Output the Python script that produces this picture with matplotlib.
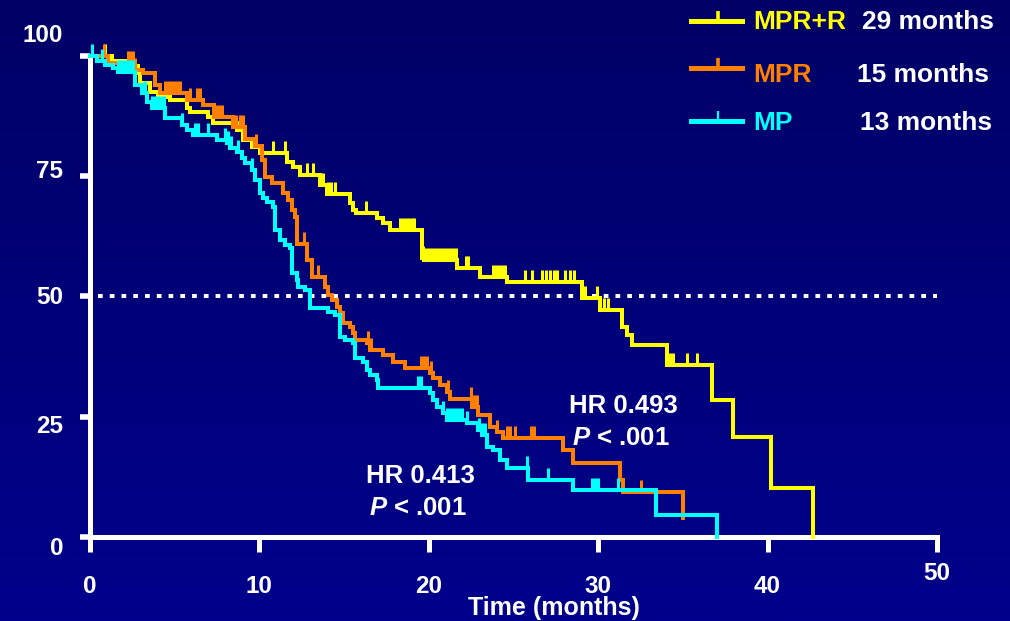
import numpy as np
import matplotlib
matplotlib.use("Agg")
import matplotlib.pyplot as plt
from matplotlib.colors import LinearSegmentedColormap
from matplotlib.lines import Line2D
from matplotlib.markers import TICKUP
from matplotlib.transforms import ScaledTranslation

plt.rcParams['font.family'] = ['Liberation Sans', 'DejaVu Sans']
plt.rcParams['font.weight'] = 'bold'
plt.rcParams['mathtext.fontset'] = 'custom'
plt.rcParams['mathtext.it'] = 'Liberation Sans:italic:bold'
plt.rcParams['mathtext.rm'] = 'Liberation Sans:bold'

# ---- Kaplan-Meier step data (time in months, % progression-free) ----
t_mprr = [0, 1.30, 2.66, 2.83, 2.95, 3.54, 4.01, 4.72, 5.73, 5.90,
          6.97, 7.26, 8.68, 9.03, 9.56, 10.04, 11.63, 11.98, 12.40, 13.58,
          13.99, 15.35, 15.53, 15.70, 16.94, 17.30, 17.71, 19.60, 19.72, 21.66,
          23.02, 24.62, 29.04, 30.11, 31.40, 31.70, 32.00, 34.06, 36.72, 37.96,
          40.20, 42.68]
s_mprr = [100, 99.0, 97.9, 96.5, 94.4, 92.6, 91.5, 90.9, 89.2, 88.4,
          87.3, 86.1, 84.6, 82.5, 81.1, 79.8, 78.0, 77.0, 75.3, 73.2,
          71.3, 69.4, 68.0, 67.4, 66.3, 65.3, 63.8, 58.0, 57.6, 55.9,
          54.1, 53.0, 49.7, 47.2, 43.7, 42.0, 39.9, 35.8, 28.5, 20.8,
          10.2, 0]
c_mprr = [0.89, 10.80, 11.51, 12.81, 13.16, 13.75, 14.05, 14.23, 14.46, 16.29,
          18.30, 18.48, 18.65, 18.83, 19.01, 19.13, 19.66, 19.83, 20.01, 20.19,
          20.37, 20.54, 20.72, 20.90, 21.07, 21.25, 21.43, 21.61, 22.20, 22.31,
          23.79, 23.97, 24.14, 24.32, 24.50, 25.68, 26.09, 26.68, 26.92, 27.15,
          27.39, 27.57, 28.04, 28.34, 28.57, 29.22, 29.93, 30.11, 30.34, 30.58,
          34.24, 34.42, 35.24, 35.83]

t_mpr = [0, 1.06, 2.66, 3.13, 3.84, 4.13, 5.73, 6.67, 7.32, 8.44,
         9.15, 9.74, 10.15, 10.33, 10.74, 11.39, 11.69, 11.92, 12.10, 12.22,
         12.81, 13.11, 13.87, 14.05, 14.29, 14.58, 14.76, 14.94, 15.35, 15.53,
         15.64, 16.35, 16.53, 17.30, 17.89, 18.59, 20.07, 20.25, 20.66, 21.07,
         21.25, 22.55, 22.90, 23.61, 24.03, 24.38, 27.92, 28.51, 31.29, 31.46,
         35.01]
s_mpr = [100, 98.5, 97.1, 96.5, 94.0, 92.3, 90.9, 89.8, 87.3, 85.2,
         82.7, 81.3, 78.4, 74.8, 73.6, 71.5, 70.1, 68.0, 66.5, 61.0,
         57.6, 54.1, 52.0, 50.3, 49.3, 47.8, 46.6, 44.5, 43.7, 42.4,
         41.0, 40.3, 38.9, 37.8, 36.4, 35.1, 34.1, 33.1, 31.6, 30.1,
         28.7, 27.0, 25.4, 22.9, 21.8, 20.6, 18.1, 15.4, 11.9, 9.4,
         4.0]
c_mpr = [0.83, 2.24, 2.36, 2.54, 2.66, 4.43, 4.60, 4.78, 4.96, 5.14,
         5.31, 5.90, 6.32, 6.49, 7.44, 7.62, 7.79, 8.44, 8.62, 8.85,
         9.03, 9.80, 10.15, 12.22, 12.63, 12.81, 13.46, 16.41, 16.59, 19.54,
         19.72, 19.89, 20.13, 21.13, 22.49, 22.67, 22.85, 24.03, 24.62, 24.79,
         25.09, 26.03, 26.21, 31.29, 32.53, 35.01]

t_mp = [0, 0.41, 0.89, 1.36, 1.65, 2.66, 3.07, 3.36, 3.66, 4.43,
        5.43, 5.73, 6.08, 7.50, 8.09, 8.26, 8.68, 8.97, 9.15, 9.56,
        9.74, 10.04, 10.21, 10.45, 10.80, 10.92, 11.22, 11.51, 11.81, 11.92,
        12.22, 12.28, 12.69, 12.99, 14.05, 14.46, 14.76, 15.05, 15.53, 15.64,
        16.12, 16.35, 16.53, 16.94, 17.00, 20.07, 20.25, 20.48, 20.84, 21.07,
        22.26, 22.90, 23.14, 23.44, 23.79, 24.20, 24.62, 25.86, 28.51, 33.41,
        37.01]
s_mp = [100, 99.0, 98.2, 97.5, 96.7, 94.0, 92.3, 90.4, 89.2, 87.1,
        85.7, 84.6, 83.6, 82.5, 81.9, 80.9, 80.0, 78.8, 77.7, 76.3,
        74.2, 71.5, 70.5, 69.6, 68.6, 63.8, 61.7, 60.7, 60.1, 54.9,
        53.4, 52.0, 51.4, 47.6, 46.8, 46.2, 41.6, 41.0, 40.3, 37.2,
        36.4, 34.7, 33.7, 32.6, 31.0, 29.9, 28.5, 27.0, 25.8, 24.3,
        23.7, 22.2, 21.2, 18.7, 18.1, 16.0, 14.3, 11.9, 9.8, 4.6,
        0]
c_mp = [0.12, 0.71, 1.65, 1.83, 2.01, 2.18, 2.36, 2.54, 3.25, 3.66,
        3.84, 4.01, 4.19, 4.37, 5.43, 6.20, 6.38, 6.97, 7.97, 8.15,
        8.32, 8.74, 9.56, 19.36, 19.54, 20.84, 21.07, 21.25, 21.43, 21.61,
        21.78, 21.96, 22.26, 22.96, 23.14, 23.32, 25.80, 27.04, 29.63, 29.81,
        29.99, 31.17]

arm_names = ['MPR+R', 'MPR', 'MP']
arm_medians = ['29 months', '15 months', '13 months']
arm_colors = ['#FFFF00', '#FF8000', '#00FFFF']

x_ticks = [0, 10, 20, 30, 40, 50]
x_ticklabels = ['0', '10', '20', '30', '40', '50']
y_ticks = [0, 25, 50, 75, 100]
y_ticklabels = ['0', '25', '50', '75', '100']

median_level = 50
hr_labels = ['HR 0.493', 'HR 0.413']
p_label = r'$P$ < .001'

# ---- figure ----
fig = plt.figure(figsize=(10.1, 6.21), dpi=100)

bg = fig.add_axes([0, 0, 1, 1], zorder=-10)
grad = np.linspace(0, 1, 256).reshape(-1, 1)
bg.imshow(grad, cmap=LinearSegmentedColormap.from_list('navy', ['#000066', '#00008C']),
          aspect='auto', extent=[0, 1, 0, 1], origin='upper')
bg.set_axis_off()

ax = fig.add_axes([0.0891, 0.1353, 0.8386, 0.7746])
ax.set_facecolor('none')
ax.set_xlim(0, 50)
ax.set_ylim(0, 100)

for side in ('top', 'right'):
    ax.spines[side].set_visible(False)
for side in ('left', 'bottom'):
    ax.spines[side].set_color('white')
    ax.spines[side].set_linewidth(3.6)
    ax.spines[side].set_capstyle('projecting')

# median reference line
ax.axhline(median_level, xmin=0.01, xmax=1.0, color='white', lw=2.9,
           linestyle=(0, (1.17, 1.75)), dash_capstyle='butt', zorder=1)


def surv_at(times, surv, t):
    idx = np.searchsorted(times, t, side='right') - 1
    return np.asarray(surv)[idx]


arms = [(t_mprr, s_mprr, c_mprr), (t_mpr, s_mpr, c_mpr), (t_mp, s_mp, c_mp)]
for z, ((times, surv, cens), color) in enumerate(zip(arms, arm_colors)):
    ax.step(times, surv, where='post', color=color, lw=2.9, clip_on=False,
            solid_joinstyle='miter', zorder=3 + z)
    ax.plot(cens, surv_at(times, surv, cens), linestyle='none', marker=TICKUP,
            ms=8.6, mew=2.2, color=color, clip_on=False, zorder=3 + z)

# ticks
ax.set_xticks(x_ticks)
ax.set_xticklabels(x_ticklabels)
ax.set_yticks(y_ticks)
ax.set_yticklabels(y_ticklabels)
ax.tick_params(axis='x', colors='white', direction='out', length=10.8, width=3.6,
               pad=16.6, labelsize=17.5)
ax.tick_params(axis='y', colors='white', direction='out', length=7.2, width=4.0,
               pad=12.2, labelsize=17.5)

# individual label nudges (pixels, positive = up)
px = 1 / 100.0
x_nudge = [0, 0, 0, 0, 0, 13]
for lab, dy in zip(ax.get_xticklabels(), x_nudge):
    lab.set_transform(lab.get_transform() + ScaledTranslation(0, dy * px, fig.dpi_scale_trans))
y_nudge = [-9, -7, 1, 7, 23]
for lab, dy in zip(ax.get_yticklabels(), y_nudge):
    lab.set_transform(lab.get_transform() + ScaledTranslation(0, dy * px, fig.dpi_scale_trans))

ax.set_xlabel('Time (months)', color='white', fontsize=18, fontweight='bold')
ax.xaxis.set_label_coords(0.548, -0.163)
ax.xaxis.label.set_va('baseline')

# hazard ratio annotations
ax.text(31.46, 25.84, hr_labels[0], color='white', fontsize=18.5, ha='center', va='baseline')
ax.text(31.37, 19.13, p_label, color='white', fontsize=18.5, ha='center', va='baseline')
ax.text(19.48, 11.16, hr_labels[1], color='white', fontsize=18.5, ha='center', va='baseline')
ax.text(19.36, 4.57, p_label, color='white', fontsize=18.5, ha='center', va='baseline')

# legend, drawn in figure coordinates
W, H = 1010.0, 621.0
leg_line_y = [20.7, 68.3, 120.7]
leg_text_base = [29.3, 81.7, 130.0]
leg_num_x = [862, 857, 860]
for i in range(3):
    yl = 1 - leg_line_y[i] / H
    fig.add_artist(Line2D([691 / W, 742 / W], [yl, yl], color=arm_colors[i], lw=3.6,
                          transform=fig.transFigure))
    fig.add_artist(Line2D([718 / W], [yl], color=arm_colors[i], marker=TICKUP, ms=7.2,
                          mew=2.6 if i < 2 else 1.6, linestyle='none',
                          transform=fig.transFigure))
    yt = 1 - leg_text_base[i] / H
    fig.text(753 / W, yt, arm_names[i], color=arm_colors[i], fontsize=19,
             ha='left', va='baseline')
    fig.text(leg_num_x[i] / W, yt, arm_medians[i], color='white', fontsize=19,
             ha='left', va='baseline')

fig.savefig('out.png', dpi=100)
